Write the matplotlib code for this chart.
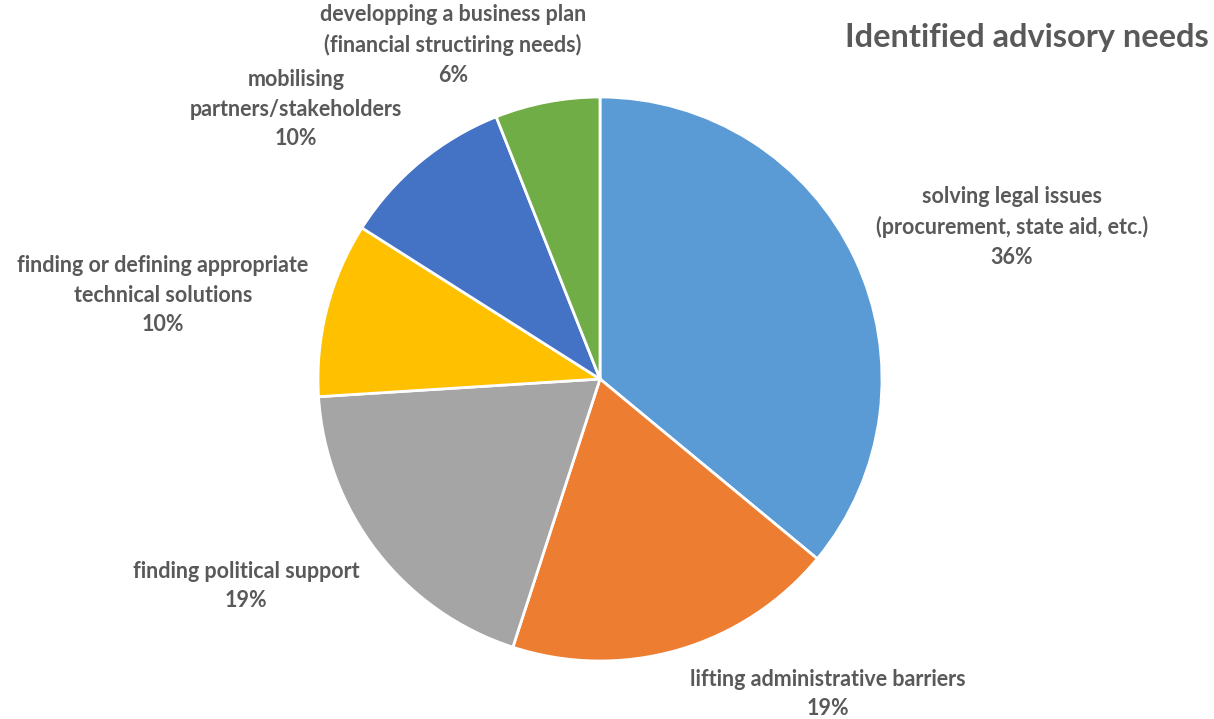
import matplotlib
matplotlib.use("Agg")
import matplotlib.pyplot as plt

categories = [
    "solving legal issues\n(procurement, state aid, etc.)",
    "lifting administrative barriers",
    "finding political support",
    "finding or defining appropriate\ntechnical solutions",
    "mobilising\npartners/stakeholders",
    "developping a business plan\n(financial structiring needs)",
]
values = [36, 19, 19, 10, 10, 6]
colors = ["#5B9BD5", "#ED7D31", "#A5A5A5", "#FFC000", "#4472C4", "#70AD47"]
title = "Identified advisory needs"

# label centres in pixel coordinates (layout only)
label_px = [(1012, 227), (828, 694), (246, 586), (163, 295), (296, 109), (453, 45)]

W, H = 1214, 719
fig = plt.figure(figsize=(W / 100, H / 100), dpi=100)
cx, cy, r = 600, 379, 282
ax = fig.add_axes([(cx - r) / W, (H - cy - r) / H, 2 * r / W, 2 * r / H])
ax.pie(values, colors=colors, startangle=90, counterclock=False, radius=1,
       wedgeprops=dict(edgecolor="white", linewidth=2))
ax.set_xlim(-1, 1)
ax.set_ylim(-1, 1)
ax.set_aspect("equal")
ax.axis("off")

txtc = "#595959"
total = sum(values)
for cat, v, (px, py) in zip(categories, values, label_px):
    fig.text(px / W, 1 - py / H, f"{cat}\n{round(100 * v / total)}%",
             ha="center", va="center", fontsize=15.5, fontweight="bold",
             color=txtc, family="Lato", linespacing=1.52)

fig.text(1027 / W, 1 - 38 / H, title, ha="center", va="center",
         fontsize=23.4, fontweight="bold", color=txtc, family="Lato")

fig.savefig("out.png", dpi=100, facecolor="white")
